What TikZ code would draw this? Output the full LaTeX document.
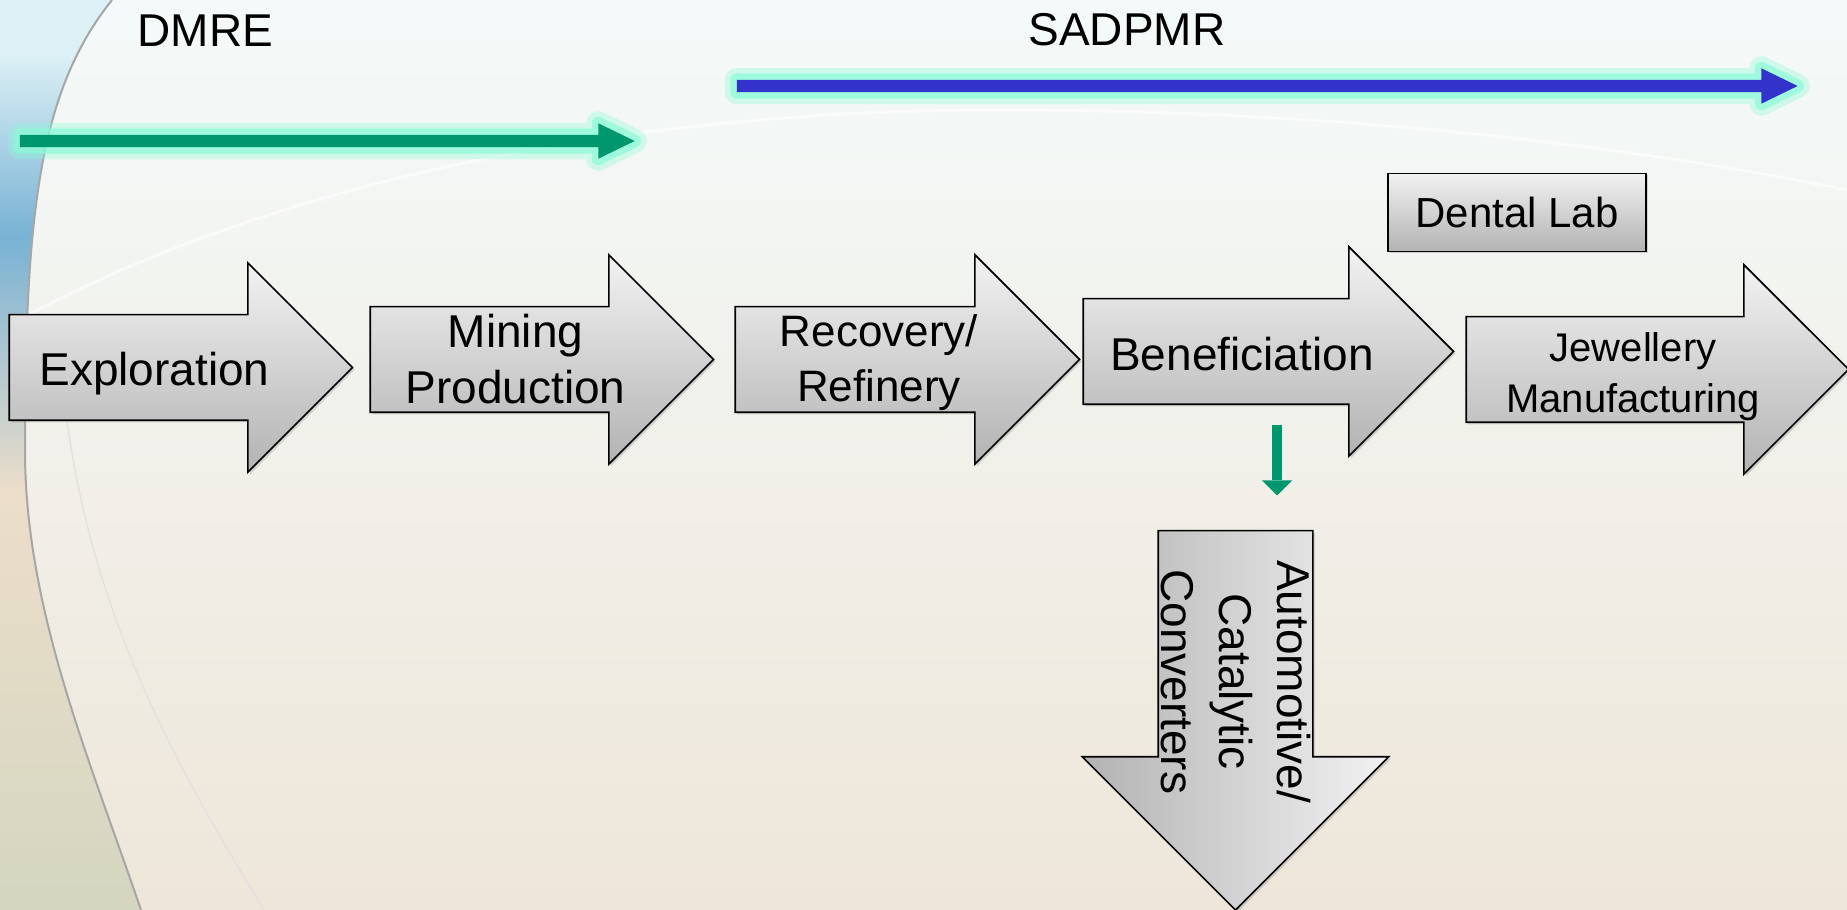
\documentclass[tikz,border=0pt]{standalone}
\usepackage{fontspec}
\setmainfont{Liberation Sans}
\usetikzlibrary{positioning,shapes.arrows,arrows.meta,shadows}

\definecolor{dmregreen}{RGB}{0,150,110}
\definecolor{sadblue}{RGB}{51,51,204}
\definecolor{glowaqua}{RGB}{140,250,215}
\definecolor{bgtop}{RGB}{244,250,250}
\definecolor{bgbot}{RGB}{238,230,217}
\definecolor{bandtop}{RGB}{220,240,245}
\definecolor{bandblue}{RGB}{120,178,212}
\definecolor{bandmid}{RGB}{236,222,202}
\definecolor{bandbot}{RGB}{212,214,192}
\pgfdeclareverticalshading{leftband}{100bp}{color(0bp)=(bandbot); color(25bp)=(bandbot); color(48bp)=(bandmid); color(62bp)=(bandblue); color(72bp)=(bandtop); color(100bp)=(bandtop)}

\begin{document}
\begin{tikzpicture}[
    x=1pt, y=1pt,
    stage/.style={single arrow, draw=black, line width=1.6pt, top color=black!5, bottom color=black!30,
        single arrow head extend=52pt, inner ysep=52pt, minimum size=0pt,
        drop shadow={opacity=0.3, shadow xshift=2pt, shadow yshift=-2pt}},
    stagelbl/.style={font=\fontsize{46}{56}\selectfont, align=center, inner sep=0pt},
    box/.style={rectangle, draw=black, line width=1.6pt, top color=black!5, bottom color=black!30,
        minimum width=258pt, minimum height=78pt, font=\fontsize{42}{50}\selectfont,
        drop shadow={opacity=0.3, shadow xshift=2pt, shadow yshift=-2pt}},
    span/.style={single arrow, draw=none, inner ysep=6pt, single arrow head extend=11.5pt,
        single arrow tip angle=52, minimum size=0pt,
        preaction={draw=glowaqua, line width=24pt, opacity=0.35, line join=round},
        preaction={draw=glowaqua, line width=13pt, opacity=0.7, line join=round}},
    spanlbl/.style={font=\fontsize{46}{56}\selectfont, inner sep=0pt},
    downarr/.style={line width=10pt, draw=dmregreen, -{Triangle[length=15pt, width=30pt, line width=0pt]}},
]
% background
\useasboundingbox (0,0) rectangle (1847,910);
\shade[top color=bgtop, bottom color=bgbot] (0,0) rectangle (1847,910);
\draw[white, line width=3pt, opacity=0.6] (0,580) .. controls (250,720) and (600,800) .. (1000,800)
    .. controls (1400,800) and (1700,750) .. (1847,720);
\shade[shading=leftband] (0,0) -- (0,910) -- (112,910) .. controls (40,820) and (25,700) .. (25,460)
    .. controls (25,300) and (90,150) .. (141,0) -- cycle;
\draw[black!35, line width=2pt] (112,910) .. controls (40,820) and (25,700) .. (25,460)
    .. controls (25,300) and (90,150) .. (141,0);
\draw[black!12, line width=1.2pt] (60,560) .. controls (75,330) and (160,170) .. (264,0);

% who covers what
\node[span, fill=dmregreen, inner xsep=300.85pt] (dmrearr) at (320.85,769) {};
\node[span, fill=sadblue, inner xsep=523.85pt, right of=dmrearr, node distance=940pt, yshift=55pt] (sadarr) {};
\node[spanlbl, above of=dmrearr, node distance=110pt, xshift=-115.35pt] (dmre) {DMRE};
\node[spanlbl, above of=sadarr, node distance=56pt, xshift=-133.85pt] (sadpmr) {SADPMR};

% value chain
\node[stage, inner xsep=144.5pt] (explore) at (154.5,542.5) {};
\node[stage, inner xsep=144.5pt, right of=explore, node distance=361pt, yshift=8pt] (mine) {};
\node[stage, inner xsep=145pt, right of=mine, node distance=365.5pt] (recov) {};
\node[stage, inner xsep=158pt, right of=recov, node distance=361pt, yshift=8pt] (benef) {};
\node[stage, inner xsep=164pt, right of=benef, node distance=389pt, yshift=-18pt] (jewel) {};
\node[stage, inner xsep=150.25pt, inner ysep=76.5pt, single arrow head extend=76pt, rotate=-90,
    left color=black!30, right color=black!5]
    (autocat) at ([xshift=-6.5pt, yshift=-330.25pt]benef.center) {};

\node[stagelbl] (exploreT) at ([yshift=-6pt]explore.center) {Exploration};
\node[stagelbl] (mineT) at (mine.center) {Mining\\Production};
\node[stagelbl, font=\fontsize{44}{55}\selectfont] (recovT) at ([xshift=-2pt, yshift=-3pt]recov.center) {Recovery/\\Refinery};
\node[stagelbl] (benefT) at ([yshift=-2.5pt]benef.center) {Beneficiation};
\node[stagelbl, font=\fontsize{40}{51}\selectfont] (jewelT) at ([xshift=2pt, yshift=-7.5pt]jewel.center) {Jewellery\\Manufacturing};
\node[stagelbl, font=\fontsize{46}{58}\selectfont, rotate=-90] (autocatT) at (autocat.center) {Automotive/\\Catalytic\\Converters};

\node[box, above of=jewel, node distance=157pt, xshift=-114pt] (dental) {Dental Lab};

\draw[downarr] ([xshift=35pt, yshift=-74pt]benef.center) -- ([xshift=41.5pt, yshift=186.25pt]autocat.center);
\end{tikzpicture}
\end{document}
